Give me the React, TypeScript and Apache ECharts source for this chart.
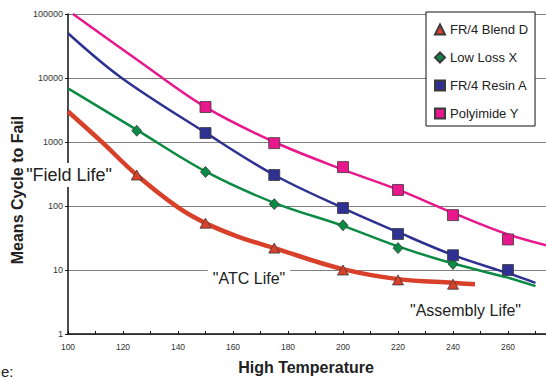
import React, { useEffect, useRef } from 'react';
import * as echarts from 'echarts';

// Measured markers
const blendT = [125, 150, 175, 200, 220, 240];
const blendV = [305, 54, 22, 10, 7, 6];
const lossT = [125, 150, 175, 200, 220, 240];
const lossV = [1500, 340, 107, 50, 22, 12.4];
const resinT = [150, 175, 200, 220, 240, 260];
const resinV = [1380, 305, 93, 36.5, 17, 10];
const polyT = [150, 175, 200, 220, 240, 260];
const polyV = [3520, 960, 405, 178, 72, 30];

// Trend curves
const blendCurveT = [100, 112, 125, 140, 150, 162, 175, 200, 220, 240, 248];
const blendCurveV = [3000, 1030, 305, 95, 54, 33, 22, 10.3, 7.2, 6.3, 6.0];
const lossCurveT = [100, 125, 150, 175, 200, 220, 240, 260, 270];
const lossCurveV = [6900, 1550, 347, 112, 49, 23.4, 12.6, 7.6, 5.6];
const resinCurveT = [100, 119, 150, 175, 200, 220, 240, 260, 270];
const resinCurveV = [50000, 10400, 1400, 305, 93, 39, 17.1, 8.9, 6.3];
const polyCurveT = [101.8, 125, 150, 175, 200, 220, 240, 260, 280];
const polyCurveV = [100000, 19500, 3500, 1000, 370, 180, 78, 36, 21];

const names = ['FR/4 Blend D', 'Low Loss X', 'FR/4 Resin A', 'Polyimide Y'];
const colors = ['#d8402a', '#0b8a43', '#2e3192', '#e8178c'];

const FONT = '"Liberation Sans", Arial, sans-serif';

const pairs = (t: number[], v: number[]) => t.map((x, i) => [x, v[i]]);

export default function App() {
  const ref = useRef<HTMLDivElement>(null);
  useEffect(() => {
    if (!ref.current) return;
    const chart = echarts.init(ref.current, undefined, { renderer: 'svg' });
    const curve = (name: string, t: number[], v: number[], color: string, width: number) => ({
      name,
      type: 'line',
      data: pairs(t, v),
      showSymbol: false,
      symbol: 'none',
      smooth: 0.35,
      lineStyle: { color, width },
      z: 2,
      silent: true,
    });
    const marks = (name: string, t: number[], v: number[], color: string, symbol: string, size: any) => ({
      name,
      type: 'scatter',
      data: pairs(t, v),
      symbol,
      symbolSize: size,
      itemStyle: { color, borderColor: '#3a3a3a', borderWidth: 0.8, opacity: 1 },
      z: 3,
    });
    chart.setOption({
      animation: false,
      backgroundColor: '#fff',
      grid: { left: 68, top: 14, right: -17, bottom: 44, outerBoundsMode: 'none', containLabel: false },
      xAxis: {
        type: 'value',
        min: 100,
        max: 280,
        interval: 10,
        axisLine: { show: true, lineStyle: { color: '#111', width: 1.5 } },
        axisTick: { show: true, inside: true, length: 3, lineStyle: { color: '#111' } },
        splitLine: { show: false },
        axisLabel: {
          fontSize: 8.5,
          color: '#333',
          fontFamily: FONT,
          margin: 8,
          formatter: (v: number) => (v % 20 === 0 && v <= 260 ? String(v) : ''),
        },
      },
      yAxis: {
        type: 'log',
        logBase: 10,
        min: 1,
        max: 100000,
        axisLine: { show: true, lineStyle: { color: '#111', width: 1.5 } },
        axisTick: { show: true, length: 3, lineStyle: { color: '#111' } },
        splitLine: { show: true, lineStyle: { color: '#808080', width: 1 } },
        axisLabel: {
          fontSize: 9,
          color: '#333',
          fontFamily: FONT,
          margin: 5,
          formatter: (v: number) => String(Math.round(v)),
        },
      },
      legend: {
        orient: 'vertical',
        left: 426,
        top: 12,
        backgroundColor: '#fff',
        borderColor: '#111',
        borderWidth: 1,
        borderRadius: 0,
        padding: [11, 7, 6, 8],
        itemWidth: 10,
        itemHeight: 10,
        itemGap: 15,
        textStyle: { fontSize: 13, color: '#222', fontFamily: FONT },
        data: [
          { name: names[0], icon: 'triangle' },
          { name: names[1], icon: 'diamond' },
          { name: names[2], icon: 'rect' },
          { name: names[3], icon: 'rect' },
        ],
      },
      series: [
        curve('c0', blendCurveT, blendCurveV, colors[0], 4.5),
        curve('c1', lossCurveT, lossCurveV, colors[1], 2.5),
        curve('c2', resinCurveT, resinCurveV, colors[2], 2.5),
        curve('c3', polyCurveT, polyCurveV, colors[3], 2.5),
        marks(names[0], blendT, blendV, colors[0], 'triangle', [11, 10]),
        marks(names[1], lossT, lossV, colors[1], 'diamond', [10, 11]),
        marks(names[2], resinT, resinV, colors[2], 'rect', 11),
        marks(names[3], polyT, polyV, colors[3], 'rect', 11),
      ],
      graphic: [
        {
          type: 'text', x: 17, y: 190, rotation: Math.PI / 2, z: 10,
          style: { text: 'Means Cycle to Fail', font: `bold 16px ${FONT}`, fill: '#222', align: 'center', verticalAlign: 'middle' },
        },
        {
          type: 'text', x: 306, y: 367, z: 10,
          style: { text: 'High Temperature', font: `bold 16px ${FONT}`, fill: '#222', align: 'center', verticalAlign: 'middle' },
        },
        {
          type: 'text', x: 113, y: 175, z: 20,
          style: { text: '"Field Life"', font: `18px ${FONT}`, fill: '#222', align: 'right', verticalAlign: 'middle', backgroundColor: '#fff', padding: [3, 1, 3, 2] },
        },
        {
          type: 'text', x: 249, y: 278, z: 20,
          style: { text: '"ATC Life"', font: `16px ${FONT}`, fill: '#222', align: 'center', verticalAlign: 'middle', backgroundColor: '#fff', padding: [4, 5, 3, 5] },
        },
        {
          type: 'text', x: 410, y: 310, z: 20,
          style: { text: '"Assembly Life"', font: `16px ${FONT}`, fill: '#222', align: 'left', verticalAlign: 'middle' },
        },
        {
          type: 'text', x: 1, y: 371, z: 20,
          style: { text: 'e:', font: `15px ${FONT}`, fill: '#222', align: 'left', verticalAlign: 'middle' },
        },
      ],
    });
    return () => chart.dispose();
  }, []);
  return <div ref={ref} style={{ width: 546, height: 378, position: 'absolute', left: 0, top: 0 }} />;
}
